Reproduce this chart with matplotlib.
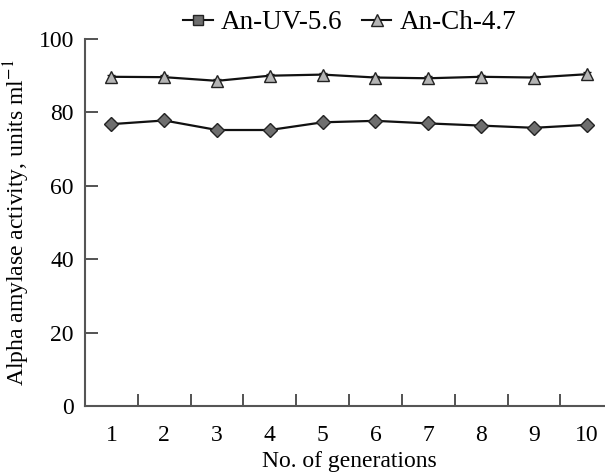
import glob
import numpy as np
import matplotlib.pyplot as plt
from matplotlib.lines import Line2D
from matplotlib import font_manager

# look for a Times-like serif font, else use matplotlib's own STIX
for path in glob.glob('/usr/share/fonts/**/*.[to]tf', recursive=True):
    low = path.lower()
    if 'liberationserif' in low or 'liberation_serif' in low or 'times' in low:
        font_manager.fontManager.addfont(path)
installed = {f.name for f in font_manager.fontManager.ttflist}
serif_list = [n for n in ['Liberation Serif', 'Times New Roman', 'STIXGeneral']
              if n in installed] or ['DejaVu Serif']
plt.rcParams['font.family'] = serif_list
plt.rcParams['mathtext.fontset'] = 'stix'

generations = np.arange(1, 11)
uv_vals = [76.8, 77.8, 75.2, 75.2, 77.3, 77.7, 77.0, 76.4, 75.8, 76.6]
ch_vals = [89.7, 89.6, 88.6, 90.0, 90.3, 89.5, 89.3, 89.7, 89.5, 90.4]
uv_err = [0.8, 0.5, 0.5, 0.5, 0.5, 0.5, 0.8, 0.5, 0.5, 0.5]
ch_err = [0.5, 0.5, 0.5, 0.5, 0.5, 0.5, 0.5, 0.5, 0.5, 0.5]

fig = plt.figure(figsize=(6.05, 4.75), dpi=100)
ax = fig.add_axes([0.1405, 0.1453, 0.873, 0.7726])

ax.errorbar(generations, uv_vals, yerr=uv_err, color='#111111', lw=1.6,
            marker='D', ms=7.5, mfc='#6e6e6e', mec='#222222', mew=1,
            capsize=3, elinewidth=1, zorder=3)
ax.errorbar(generations, ch_vals, yerr=ch_err, color='#111111', lw=1.6,
            marker='^', ms=9, mfc='#b4b4b4', mec='#222222', mew=1,
            capsize=3, elinewidth=1, zorder=3)

ax.set_xlim(0.5, 10.5)
ax.set_ylim(0, 100)
ax.set_xticks(generations)
ax.set_xticks(np.arange(1.5, 10.5, 1), minor=True)
ax.tick_params(axis='x', which='major', length=0, labelsize=17, pad=14)
ax.tick_params(axis='x', which='minor', direction='in', length=9,
               width=1.3, color='#444444')
ax.set_yticks(np.arange(0, 101, 20))
ax.tick_params(axis='y', direction='in', length=9, width=1.3,
               color='#444444', labelsize=17, pad=8)

for s in ['top', 'right']:
    ax.spines[s].set_visible(False)
for s in ['left', 'bottom']:
    ax.spines[s].set_color('#555555')
    ax.spines[s].set_linewidth(1.5)

ax.set_xlabel('No. of generations', fontsize=17, labelpad=3)
ax.set_ylabel('Alpha amylase activity, units ml$^{-1}$', fontsize=17, labelpad=5)

handles = [
    Line2D([], [], color='#111111', lw=1.5, marker='s', ms=7,
           mfc='#6e6e6e', mec='#222222'),
    Line2D([], [], color='#111111', lw=1.5, marker='^', ms=8,
           mfc='#b4b4b4', mec='#222222'),
]
fig.legend(handles, ['An-UV-5.6', 'An-Ch-4.7'], loc='center',
           bbox_to_anchor=(0.578, 0.952), ncol=2, frameon=False,
           fontsize=19.5, handlelength=1.1, handletextpad=0.3,
           columnspacing=0.7)

plt.savefig('out.png', dpi=100)
